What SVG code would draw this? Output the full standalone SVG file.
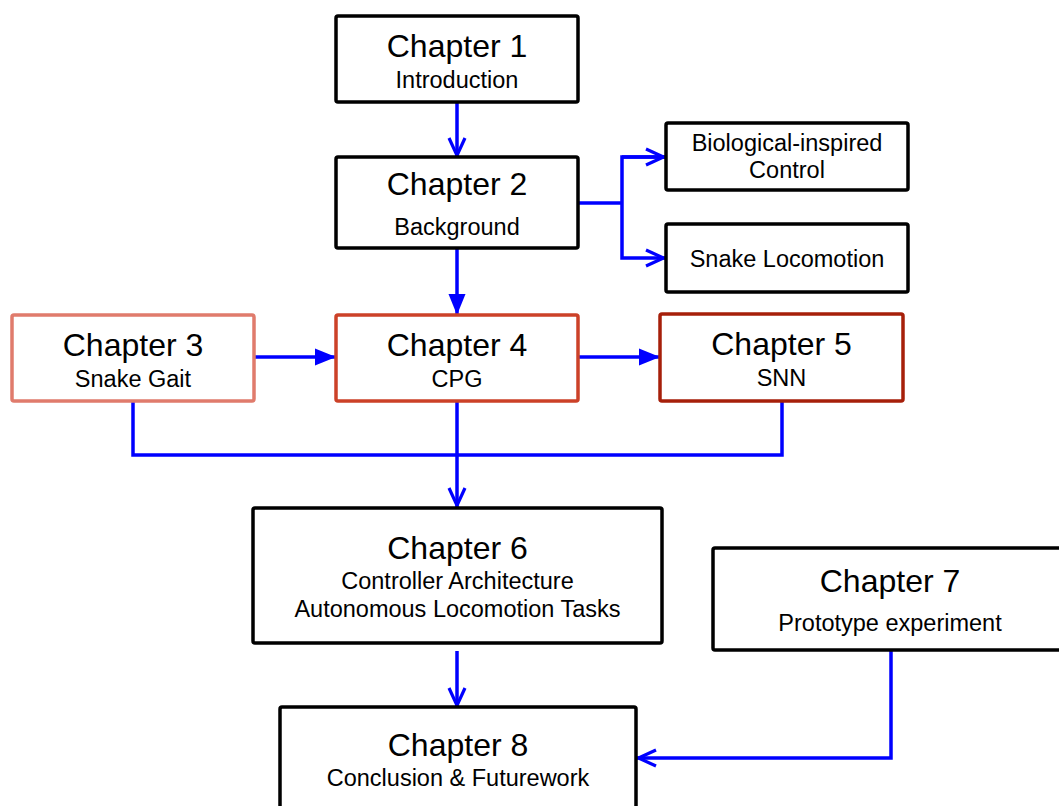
<svg xmlns="http://www.w3.org/2000/svg" width="1059" height="806" viewBox="0 0 1059 806">
<style>
.box{fill:#ffffff;stroke:#000000;stroke-width:3.5}
.t{font-family:"Liberation Sans",Arial,sans-serif;font-size:32px;fill:#000;text-anchor:middle}
.s{font-family:"Liberation Sans",Arial,sans-serif;font-size:23.5px;fill:#000;text-anchor:middle}
.c{fill:none;stroke:#0000ff;stroke-width:3.5}
</style>
<defs>
<marker id="open" markerUnits="userSpaceOnUse" markerWidth="30" markerHeight="24" viewBox="-24 -12 30 24" refX="0" refY="0" orient="auto" overflow="visible">
<path d="M-19,-8 L-1.5,0 L-19,8" fill="none" stroke="#0000ff" stroke-width="3.2"/>
</marker>
<marker id="fill" markerUnits="userSpaceOnUse" markerWidth="30" markerHeight="24" viewBox="-24 -12 30 24" refX="0" refY="0" orient="auto" overflow="visible">
<path d="M0,0 L-21,-8.5 L-21,8.5 Z" fill="#0000ff"/>
</marker>
</defs>
<g id="connectors">
<line class="c" x1="457" y1="102" x2="457" y2="157" marker-end="url(#open)"/>
<polyline class="c" points="578,203 622,203"/>
<polyline class="c" points="665,157 622,157 622,258 665,258" marker-end="url(#open)"/>
<line class="c" x1="622" y1="157" x2="665" y2="157" marker-end="url(#open)"/>
<line class="c" x1="457" y1="248" x2="457" y2="315" marker-end="url(#fill)"/>
<line class="c" x1="254" y1="357" x2="336" y2="357" marker-end="url(#fill)"/>
<line class="c" x1="578" y1="357" x2="660" y2="357" marker-end="url(#fill)"/>
<polyline class="c" points="133,401 133,455 782,455 782,401"/>
<line class="c" x1="457" y1="401" x2="457" y2="507" marker-end="url(#open)"/>
<line class="c" x1="457" y1="651" x2="457" y2="707" marker-end="url(#open)"/>
<polyline class="c" points="891,650 891,758 637,758" marker-end="url(#open)"/>
</g>
<g id="ch1">
<rect class="box" x="336" y="16" width="242" height="86" rx="2"/>
<text class="t" x="457" y="57">Chapter 1</text>
<text class="s" x="457" y="88">Introduction</text>
</g>
<g id="ch2">
<rect class="box" x="336" y="157" width="242" height="91" rx="2"/>
<text class="t" x="457" y="195">Chapter 2</text>
<text class="s" x="457" y="235">Background</text>
</g>
<g id="bio">
<rect class="box" x="666" y="123" width="242" height="67" rx="2"/>
<text class="s" x="787" y="151">Biological-inspired</text>
<text class="s" x="787" y="178">Control</text>
</g>
<g id="snake">
<rect class="box" x="666" y="224" width="242" height="68" rx="2"/>
<text class="s" x="787" y="267">Snake Locomotion</text>
</g>
<g id="ch3">
<rect class="box" x="12" y="315" width="242" height="86" rx="2" style="stroke:#e07b6c"/>
<text class="t" x="133" y="356">Chapter 3</text>
<text class="s" x="133" y="387">Snake Gait</text>
</g>
<g id="ch4">
<rect class="box" x="336" y="315" width="242" height="86" rx="2" style="stroke:#cc4128"/>
<text class="t" x="457" y="356">Chapter 4</text>
<text class="s" x="457" y="387">CPG</text>
</g>
<g id="ch5">
<rect class="box" x="660" y="314" width="243" height="87" rx="2" style="stroke:#a61f0a"/>
<text class="t" x="781.5" y="355">Chapter 5</text>
<text class="s" x="781.5" y="386">SNN</text>
</g>
<g id="ch6">
<rect class="box" x="253" y="508" width="409" height="135" rx="2"/>
<text class="t" x="457.5" y="559">Chapter 6</text>
<text class="s" x="457.5" y="589">Controller Architecture</text>
<text class="s" x="457.5" y="617">Autonomous Locomotion Tasks</text>
</g>
<g id="ch7">
<rect class="box" x="713" y="548" width="354" height="102" rx="2"/>
<text class="t" x="890" y="592">Chapter 7</text>
<text class="s" x="890" y="631">Prototype experiment</text>
</g>
<g id="ch8">
<rect class="box" x="280" y="707" width="356" height="120" rx="2"/>
<text class="t" x="458" y="756">Chapter 8</text>
<text class="s" x="458" y="786">Conclusion &amp; Futurework</text>
</g>
</svg>
